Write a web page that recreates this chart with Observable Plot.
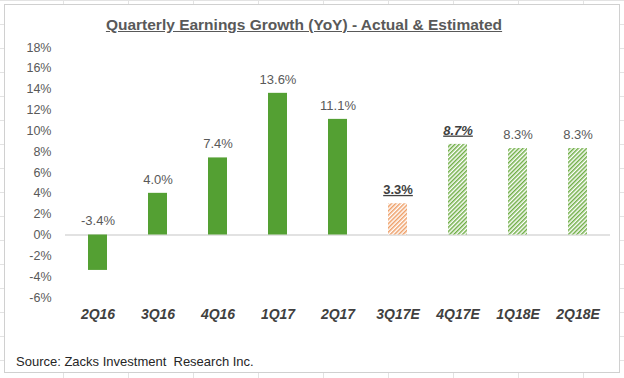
<!DOCTYPE html>
<html>
<head>
<meta charset="utf-8">
<script src="https://cdn.jsdelivr.net/npm/d3@7"></script>
<script src="https://cdn.jsdelivr.net/npm/@observablehq/plot@0.6"></script>
<style>
  html, body { margin: 0; padding: 0; }
  body {
    width: 624px; height: 378px; overflow: hidden; position: relative;
    font-family: "Liberation Sans", Arial, sans-serif;
    background-color: #ffffff;
    background-image:
      linear-gradient(to right, #e3e3e3 1px, transparent 1px),
      linear-gradient(to bottom, #e3e3e3 1px, transparent 1px);
    background-size: 65px 24px;
    background-position: -2px 0px;
  }
  #box {
    position: absolute; left: 4px; top: 4px; width: 614px; height: 367px;
    background: #fff; border: 1px solid #d0d0d0;
  }
  #chart { position: absolute; left: 0; top: 0; }
  #title {
    position: absolute; left: 0; width: 608px; top: 16px; text-align: center;
    font-size: 15.5px; font-weight: bold; color: #595959; text-decoration: underline;
  }
  #caption {
    position: absolute; left: 16px; top: 354px; font-size: 13px; color: #262626;
  }
</style>
</head>
<body>
<div id="box"></div>
<div id="chart"></div>
<div id="title">Quarterly Earnings Growth (YoY) - Actual &amp; Estimated</div>
<div id="caption">Source: Zacks Investment&nbsp; Research Inc.</div>
<script>
const categories = ["2Q16", "3Q16", "4Q16", "1Q17", "2Q17", "3Q17E", "4Q17E", "1Q18E", "2Q18E"];
const values = [-3.4, 4.0, 7.4, 13.6, 11.1, 3.0, 8.7, 8.3, 8.3];
const valueLabels = ["-3.4%", "4.0%", "7.4%", "13.6%", "11.1%", "3.3%", "8.7%", "8.3%", "8.3%"];
const kinds = ["actual", "actual", "actual", "actual", "actual", "current", "next", "estimate", "estimate"];
const yTicks = [-6, -4, -2, 0, 2, 4, 6, 8, 10, 12, 14, 16, 18];

const fillFor = {actual: "#54A033", current: "url(#hatchOrange)", next: "url(#hatchGreen)", estimate: "url(#hatchGreen)"};

const data = categories.map((c, i) => ({cat: c, value: values[i], label: valueLabels[i], kind: kinds[i], top: Math.max(values[i], 0)}));
const plain = data.filter(d => d.kind === "actual" || d.kind === "estimate");
const current = data.filter(d => d.kind === "current");
const next = data.filter(d => d.kind === "next");

const chart = Plot.plot({
  width: 624,
  height: 378,
  marginLeft: 65,
  marginRight: 14,
  marginTop: 47,
  marginBottom: 81,
  style: {background: "transparent", fontFamily: "'Liberation Sans', Arial, sans-serif"},
  x: {domain: categories, paddingInner: 0.686, paddingOuter: 0.32, align: 0.5},
  y: {domain: [-6, 18]},
  color: {type: "identity"},
  marks: [
    Plot.axisY({ticks: yTicks, tickSize: 0, tickPadding: 14, tickFormat: d => d + "%", fontSize: 12.5, color: "#595959", label: null}),
    Plot.axisX({tickSize: 0, tickPadding: 12, fontSize: 14, fontWeight: "bold", fontStyle: "italic", color: "#404040", label: null}),
    Plot.ruleY([0], {stroke: "#d9d9d9", strokeWidth: 1.5}),
    Plot.barY(data, {x: "cat", y: "value", fill: d => fillFor[d.kind]}),
    Plot.text(plain, {x: "cat", y: "top", text: "label", dy: -14, fontSize: 13, fill: "#595959"}),
    Plot.text(current, {x: "cat", y: "top", text: "label", dy: -14, fontSize: 13, fontWeight: "bold", fill: "#404040", ariaLabel: "emph-label"}),
    Plot.text(next, {x: "cat", y: "top", text: "label", dy: -14, fontSize: 13, fontWeight: "bold", fontStyle: "italic", fill: "#404040", ariaLabel: "emph-label"})
  ]
});

const svg = d3.select(chart);
const defs = svg.insert("defs", ":first-child");
function hatch(id, color) {
  const p = defs.append("pattern").attr("id", id).attr("patternUnits", "userSpaceOnUse")
    .attr("width", 3).attr("height", 3).attr("patternTransform", "rotate(45)");
  p.append("rect").attr("width", 3).attr("height", 3).attr("fill", "#ffffff");
  p.append("rect").attr("width", 1.5).attr("height", 3).attr("fill", color);
}
hatch("hatchGreen", "#6FAE45");
hatch("hatchOrange", "#EE9E66");

const emphTexts = new Set([...current, ...next].map(d => d.label));
svg.selectAll("text").filter(function() { return emphTexts.has(this.textContent); })
  .attr("text-decoration", "underline").style("text-decoration", "underline");

document.getElementById("chart").appendChild(chart);
</script>
</body>
</html>
